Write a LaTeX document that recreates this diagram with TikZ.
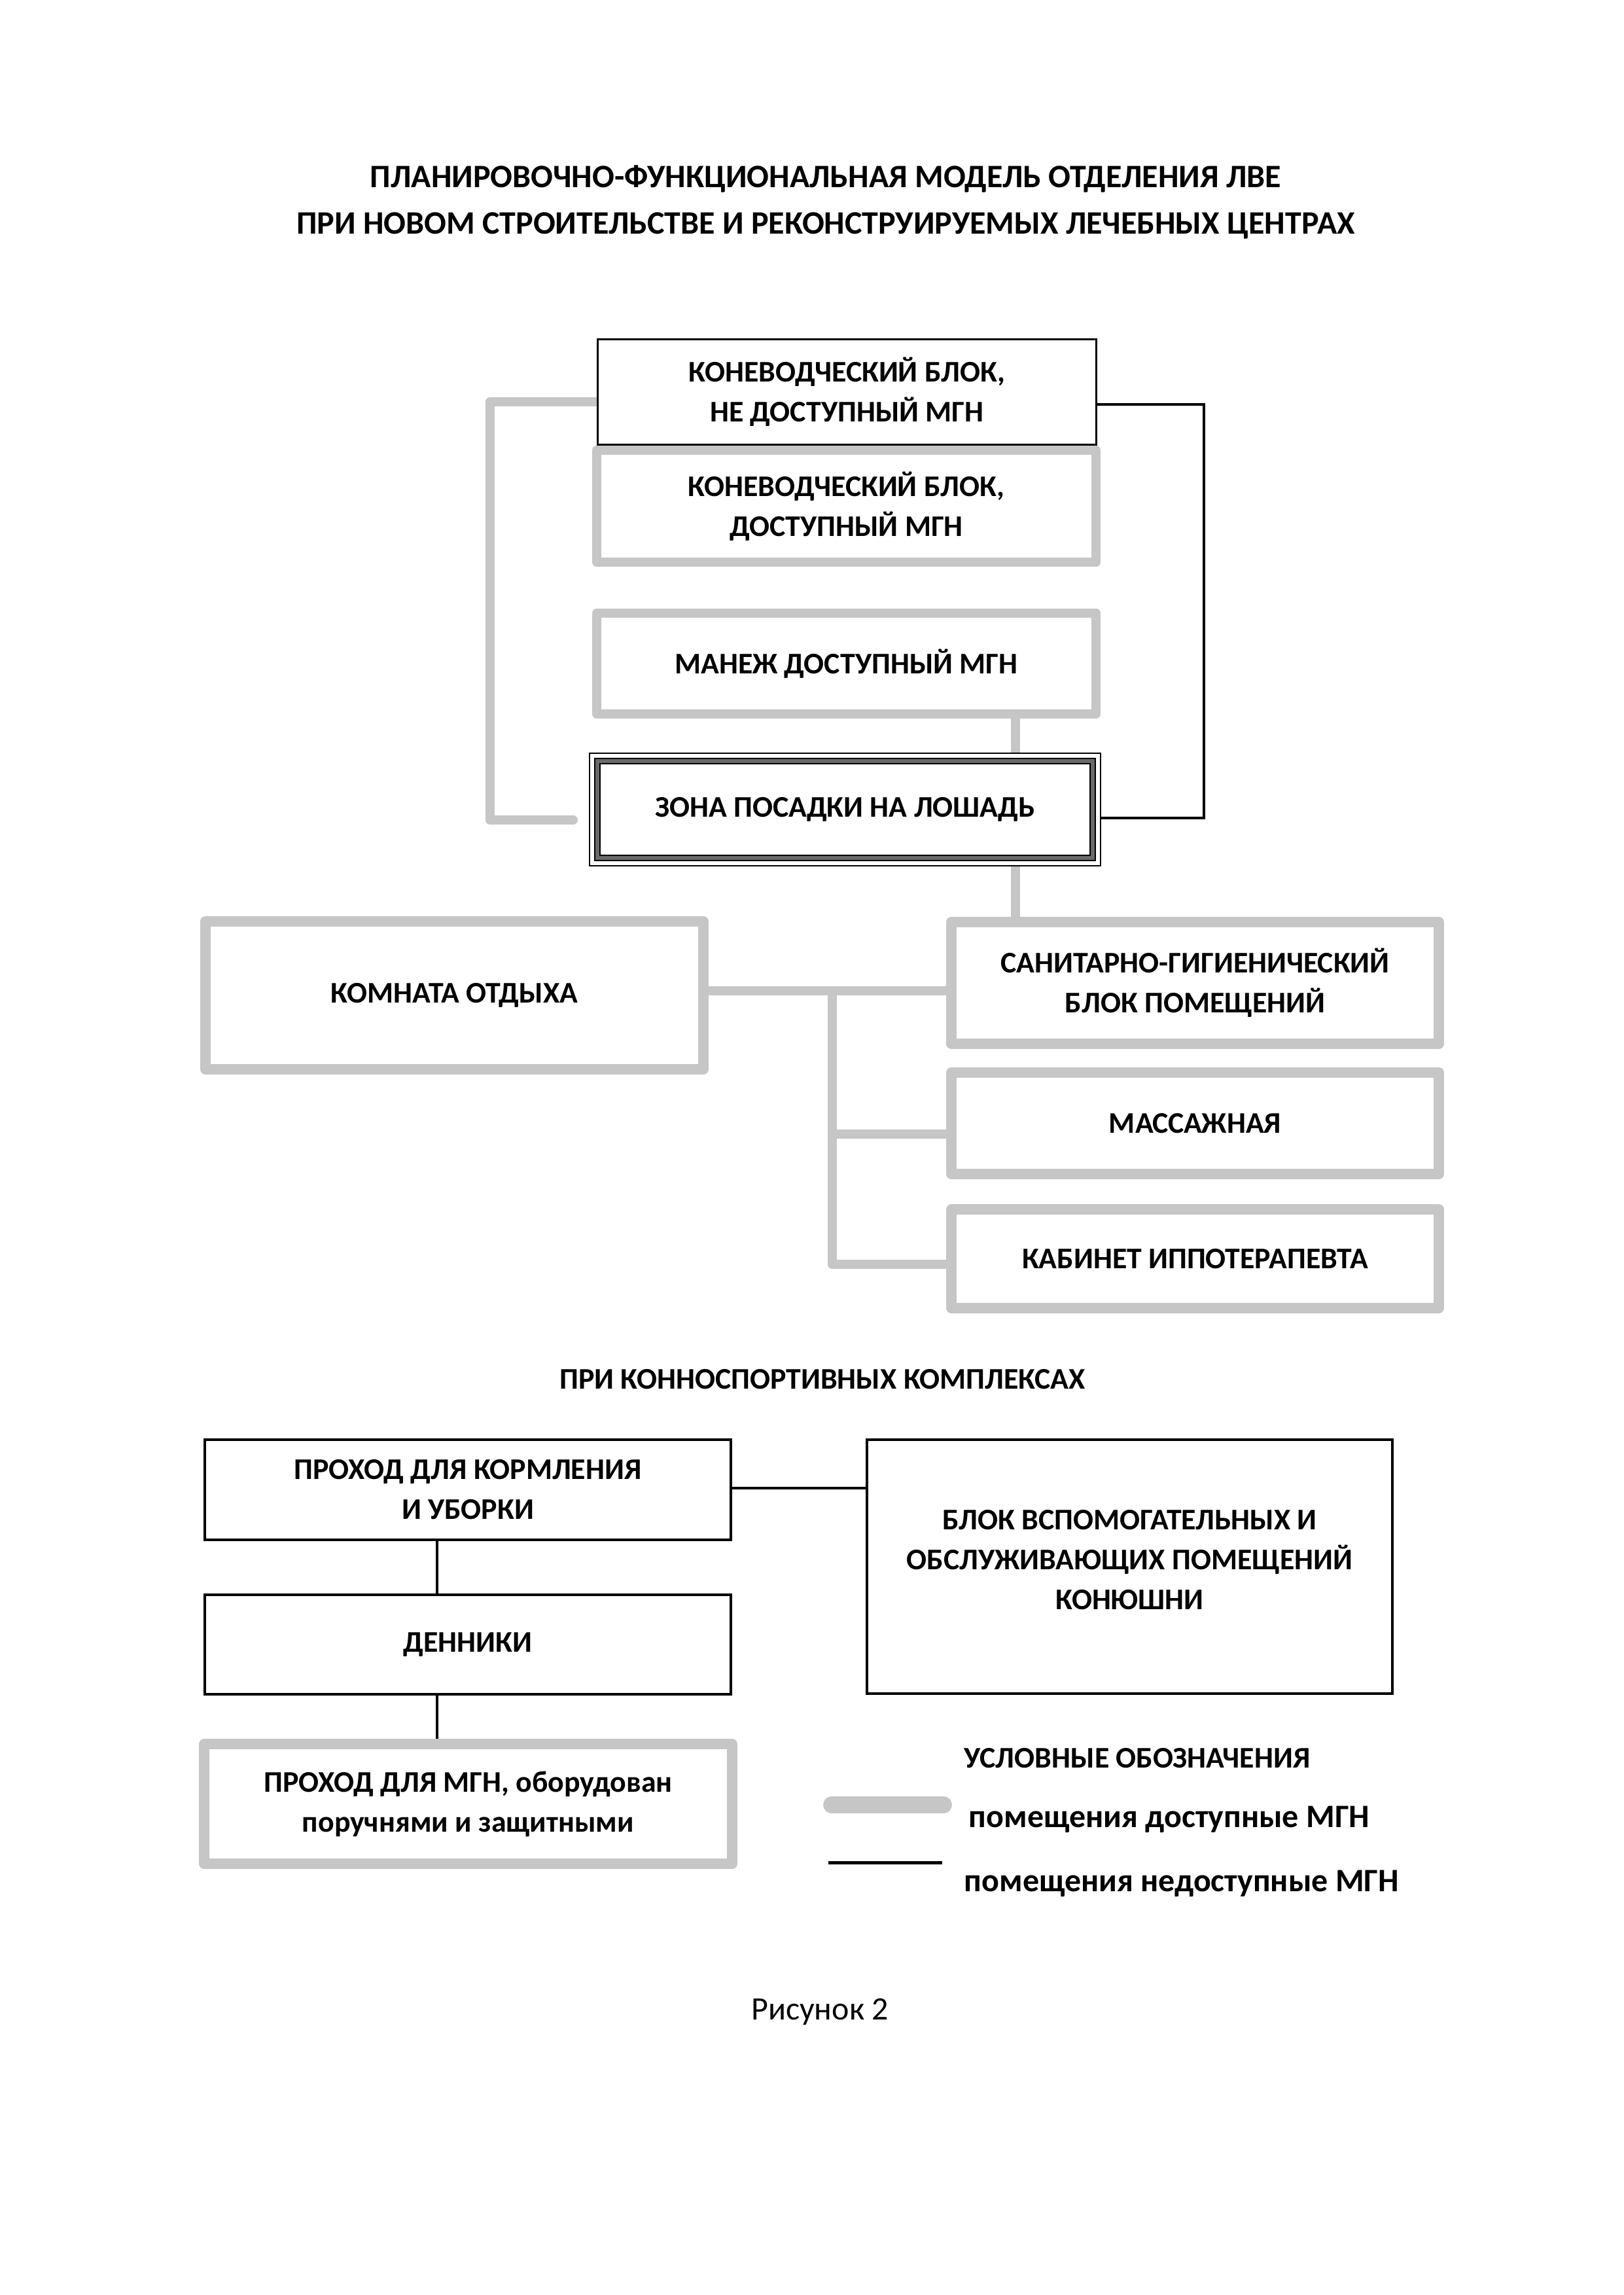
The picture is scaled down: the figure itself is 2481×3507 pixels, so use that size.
\documentclass[tikz,border=0pt]{standalone}
\usepackage{fontspec}
\setmainfont{Carlito}
\usetikzlibrary{backgrounds}
\definecolor{mgn}{RGB}{198,198,198}
\definecolor{bandc}{RGB}{105,105,105}
\newcommand\bxfont{\fontsize{11}{14.65}\selectfont\bfseries}
\newcommand\ttlfont{\fontsize{12}{17}\selectfont\bfseries}
\newcommand\lgfont{\fontsize{12}{14.65}\selectfont\bfseries}
\begin{document}
\begin{tikzpicture}[x=0.24pt,y=-0.24pt,
  sz/.style 2 args={minimum width=#1*0.24pt, minimum height=#2*0.24pt},
  gbox/.style={draw=mgn, line width=3.4pt, fill=white, line join=round, inner sep=0pt, align=center, font=\bxfont},
  gboxl/.style={gbox, line width=3.8pt},
  bbox/.style={draw=black, line width=0.75pt, fill=white, inner sep=0pt, align=center, font=\bxfont},
  bboxl/.style={bbox, line width=1pt},
  gline/.style={draw=mgn, line width=3.4pt, line join=round},
  bline/.style={draw=black, line width=1pt},
  txt/.style={inner sep=0pt, anchor=base},
  legtxt/.style={inner sep=0pt, anchor=base west, font=\lgfont}]
\useasboundingbox (0,0) rectangle (2481,3507);

% titles
\node[txt, font=\ttlfont] (t1) at (1262,287) {ПЛАНИРОВОЧНО-ФУНКЦИОНАЛЬНАЯ МОДЕЛЬ ОТДЕЛЕНИЯ ЛВЕ};
\node[txt, font=\ttlfont] (t2) at (1262,358) {ПРИ НОВОМ СТРОИТЕЛЬСТВЕ И РЕКОНСТРУИРУЕМЫХ ЛЕЧЕБНЫХ ЦЕНТРАХ};

% upper column
\node[bbox, sz={762}{161}] (A) at (1294.5,599) {КОНЕВОДЧЕСКИЙ БЛОК,\\НЕ ДОСТУПНЫЙ МГН};
\node[gbox, sz={763}{171}] (B) at (1293.5,773.5) {КОНЕВОДЧЕСКИЙ БЛОК,\\ДОСТУПНЫЙ МГН};
\node[gbox, sz={763}{154}] (C) at (1293.5,1014) {МАНЕЖ ДОСТУПНЫЙ МГН};
\node[draw=black, line width=0.5pt, fill=white, inner sep=0pt, font=\bxfont, sz={781}{172}] (D) at (1291.5,1237) {ЗОНА ПОСАДКИ НА ЛОШАДЬ};
\draw[black, line width=0.5pt, double=bandc, double distance=1.3pt]
  ([shift={(13,13)}]D.north west) rectangle ([shift={(-13,-13)}]D.south east);

% middle group
\node[gboxl, sz={761}{226}] (K) at (694.5,1521) {КОМНАТА ОТДЫХА};
\node[gboxl, sz={745}{186}] (S) at (1826.5,1502) {САНИТАРНО-ГИГИЕНИЧЕСКИЙ\\БЛОК ПОМЕЩЕНИЙ};
\node[gboxl, sz={745}{155}] (M) at (1826.5,1716.5) {МАССАЖНАЯ};
\node[gboxl, sz={745}{151}] (Kab) at (1826.5,1923.5) {КАБИНЕТ ИППОТЕРАПЕВТА};

% section title
\node[txt, font=\bxfont] (t3) at (1257,2122) {ПРИ КОННОСПОРТИВНЫХ КОМПЛЕКСАХ};

% lower group
\node[bboxl, sz={804}{153}] (P1) at (715,2276.5) {ПРОХОД ДЛЯ КОРМЛЕНИЯ\\И УБОРКИ};
\node[bboxl, sz={804}{152}] (Den) at (715,2513) {ДЕННИКИ};
\node[bboxl, sz={803}{388},
  label={[align=center, font=\bxfont, yshift=2.6pt]center:БЛОК ВСПОМОГАТЕЛЬНЫХ И\\ОБСЛУЖИВАЮЩИХ ПОМЕЩЕНИЙ\\КОНЮШНИ}] (Blk) at (1726.5,2394) {};
\node[gboxl, sz={807}{183}] (P2) at (715.5,2756.5) {ПРОХОД ДЛЯ МГН, оборудован\\поручнями и защитными};

% named coordinates
\coordinate (ltop) at (749,614);
\coordinate (lbot) at (749,1253);
\coordinate (lend) at (876,1253);
\coordinate (rtop) at (1840,618);
\coordinate (rbot) at (1840,1250);
\coordinate (cx) at (1552,0);
\coordinate (j1) at (1272,1514);
\coordinate (j2) at (1272,1733);
\coordinate (j3) at (1272,1932);
\coordinate (by) at (0,2274);
\coordinate (vx) at (668,0);

\begin{scope}[on background layer]
  \fill[white] (0,0) rectangle (2481,3507);
  \draw[gline, line cap=round] (A.center |- ltop) -- (ltop) -- (lbot) -- (lend);
  \draw[bline] (A.center |- rtop) -- (rtop) -- (rbot) -- (D.center |- rbot);
  \draw[gline] (C.center -| cx) -- (D.center -| cx);
  \draw[gline] (D.center -| cx) -- (S.center -| cx);
  \draw[gline] (K.center |- j1) -- (S.center |- j1);
  \draw[gline] (j1) -- (j3) -- (Kab.center |- j3);
  \draw[gline] (j2) -- (M.center |- j2);
  \draw[bline] (P1.center |- by) -- (Blk.center |- by);
  \draw[bline] (P1.center -| vx) -- (Den.center -| vx);
\end{scope}
\draw[bline] (Den.south -| vx) -- (P2.north -| vx);

% legend
\node[legtxt, font=\bxfont] (lt) at (1473,2701) {УСЛОВНЫЕ ОБОЗНАЧЕНИЯ};
\coordinate (g1) at (1271,2758);
\coordinate (g2) at (1442,2758);
\draw[draw=mgn, line width=6.2pt, line cap=round] (g1) -- (g2);
\node[legtxt] (l1) at (1480,2792) {помещения доступные МГН};
\coordinate (k1) at (1266,2846);
\coordinate (k2) at (1440,2846);
\draw[black, line width=1.2pt] (k1) -- (k2);
\node[legtxt] (l2) at (1473,2890) {помещения недоступные МГН};

% caption
\node[txt, font=\fontsize{12}{14.65}\selectfont] (cap) at (1253,3086) {Рисунок 2};
\end{tikzpicture}
\end{document}
